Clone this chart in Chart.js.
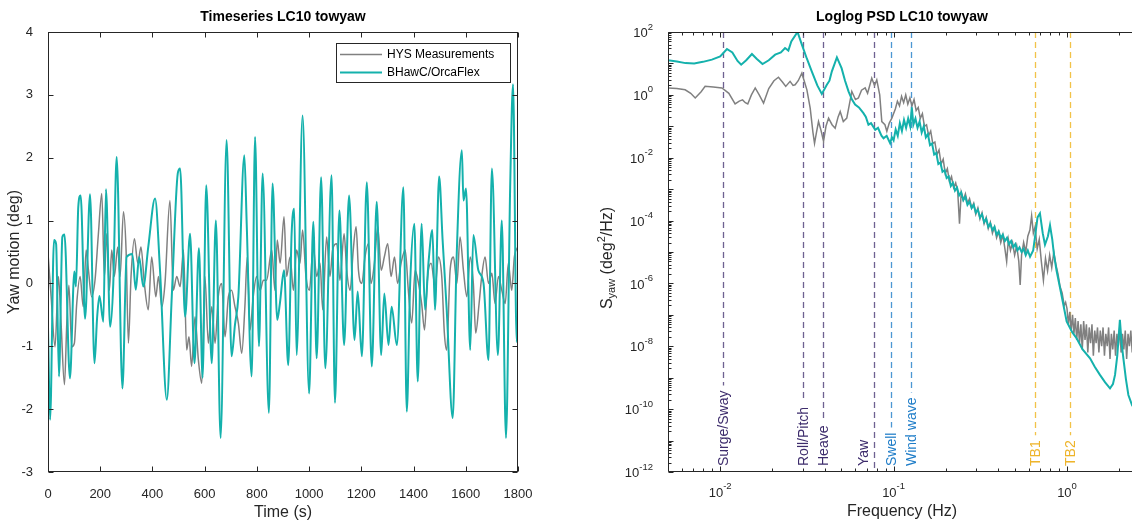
<!DOCTYPE html>
<html><head><meta charset="utf-8">
<script src="https://cdn.jsdelivr.net/npm/chart.js@4/dist/chart.umd.min.js"></script>
<style>
html,body{margin:0;padding:0;background:#fff;overflow:hidden;width:1132px;height:522px}
#w1{position:absolute;left:0;top:0;width:560px;height:522px}
#w2{position:absolute;left:560px;top:0;width:580px;height:522px}
</style></head><body>
<div id="w1"><canvas id="c1" width="560" height="522"></canvas></div>
<div id="w2"><canvas id="c2" width="580" height="522"></canvas></div>
<script>
// ---------- Timeseries data (time in s, yaw in deg) ----------
const seriesNames = ['HYS Measurements', 'BHawC/OrcaFlex'];
const hysTime = [1,12,27,40,50,63,72,80,91,101,110,123,135,146,155,167,180,193,206,216,225,235,244,254,267,276,289,299,308,318,331,344,356,369,384,397,413,423,436,448,467,480,493,506,519,531,540,550,563,576,589,601,614,627,640,652,665,678,691,703,716,729,742,754,763,774,786,799,812,825,837,857,869,878,889,904,914,927,940,952,965,975,988,1001,1016,1029,1042,1052,1067,1080,1090,1106,1118,1134,1144,1157,1169,1180,1189,1202,1214,1227,1237,1250,1263,1276,1288,1301,1314,1327,1339,1352,1368,1380,1393,1406,1419,1431,1442,1454,1467,1483,1495,1508,1518,1527,1540,1553,1566,1578,1591,1604,1617,1629,1638,1651,1661,1674,1687,1700,1712,1725,1738,1751,1763,1776,1786,1799];
const hysYaw = [0.42,-0.21,-1.01,0.11,-0.63,-1.61,-0.63,-0.03,-1.01,-0.95,-0.32,0.11,-0.37,0.53,0.21,-0.21,0.05,0.79,1.43,0.11,0.79,-0.11,0.53,0.11,0.58,0.11,1.14,0.53,-0.95,0.11,0.71,0.32,0.58,0.0,-0.42,0.42,-0.21,0.11,-0.37,0.0,1.32,-0.11,0.11,-0.05,0.53,-1.06,-0.85,-1.32,-0.53,-1.22,-1.59,0.11,-0.95,-0.37,-0.95,-0.21,0.0,-0.85,-0.21,-0.11,-0.37,-0.63,-1.11,-0.37,0.42,-0.74,-0.21,0.11,-0.11,0.05,0.05,0.53,-0.11,0.69,0.32,1.06,0.11,0.42,-0.11,0.53,0.32,0.85,0.11,-0.11,0.58,0.11,0.32,-0.42,0.74,0.11,0.53,0.63,0.05,0.79,0.21,-0.11,0.53,0.90,0.21,0.0,0.42,0.63,0.0,0.32,0.90,0.21,0.42,0.63,0.11,0.42,0.0,0.32,0.53,-0.11,-0.63,0.21,0.0,-0.32,-0.74,0.11,0.32,-0.05,0.42,0.11,-0.79,-1.06,0.21,0.42,0.0,0.74,0.21,-0.21,0.42,0.0,-0.79,-0.32,0.11,0.42,0.0,0.16,-0.32,0.11,-0.11,-0.32,0.32,-0.11,0.42,0.58];
const simTime = [0,8,23,31,42,55,63,84,101,107,116,125,142,161,178,188,197,212,222,238,250,263,285,301,323,336,349,365,384,410,429,455,474,497,506,525,544,561,578,592,606,627,643,661,684,703,716,729,752,761,780,793,808,822,846,860,878,888,904,920,933,943,952,975,1000,1016,1029,1046,1062,1086,1099,1116,1134,1153,1174,1186,1202,1221,1240,1259,1276,1288,1304,1316,1336,1361,1374,1387,1403,1416,1431,1444,1457,1472,1482,1498,1511,1527,1550,1565,1585,1591,1601,1617,1629,1648,1668,1687,1700,1723,1738,1754,1770,1781,1795,1800];
const simYaw = [-0.69,-2.17,0.69,0.63,-1.48,0.74,0.78,-1.51,0.19,-0.05,1.22,1.40,-0.56,1.42,-1.27,-0.55,-0.2,-0.61,1.50,-0.69,0.0,2.01,-1.67,0.42,0.47,-0.1,0.42,-0.05,0.58,1.35,0.21,-1.85,-0.21,1.75,1.83,-0.53,0.79,-1.27,0.56,-1.5,1.56,-1.27,1.0,-2.46,2.28,-1.16,-0.66,-0.21,2.04,0.95,-1.48,2.33,-1.0,1.75,-2.06,1.59,-0.58,-0.32,0.21,-1.30,0.79,1.19,-1.14,2.67,-1.75,0.98,-1.19,1.69,-1.35,1.72,-1.90,1.16,-0.98,1.40,-0.9,-0.13,-1.16,1.61,-1.32,1.30,-1.14,-0.16,-0.98,-0.37,-0.98,1.53,-2.04,0.0,0.95,-1.56,0.95,-0.42,0.32,0.85,-0.42,1.70,0.71,-0.42,-2.14,0.42,2.12,1.32,1.51,-1.06,0.77,0.21,0.0,-1.22,1.83,-1.14,1.0,-2.46,1.53,3.17,-0.93,-0.6];
const timeTicks = [0,200,400,600,800,1000,1200,1400,1600,1800];
const yawTicks = [-3,-2,-1,0,1,2,3,4];

// ---------- PSD data: pairs of [log10 frequency (Hz), log10 PSD (deg^2/Hz)] ----------
const hysPsd = [[-2.301,0.22],[-2.25,0.20],[-2.202,0.16],[-2.17,0.05],[-2.144,-0.10],[-2.11,0.10],[-2.087,0.27],[-2.04,0.25],[-1.99,0.22],[-1.95,0.05],[-1.914,-0.29],[-1.89,-0.20],[-1.871,-0.16],[-1.855,-0.25],[-1.841,-0.29],[-1.82,0.0],[-1.798,0.22],[-1.775,0.0],[-1.75,-0.26],[-1.72,0.20],[-1.69,0.45],[-1.664,0.56],[-1.64,0.40],[-1.622,0.27],[-1.597,0.43],[-1.58,0.30],[-1.568,0.32],[-1.55,0.45],[-1.529,0.69],[-1.5,0.16],[-1.481,-0.42],[-1.465,-1.2],[-1.456,-1.54],[-1.445,-1.2],[-1.433,-0.85],[-1.42,-1.1],[-1.404,-1.48],[-1.39,-1.0],[-1.375,-0.74],[-1.355,-0.95],[-1.337,-1.06],[-1.32,-0.7],[-1.308,-0.53],[-1.29,-0.85],[-1.27,-0.74],[-1.255,-0.3],[-1.241,0.11],[-1.22,-0.15],[-1.203,-0.10],[-1.185,0.15],[-1.164,0.22],[-1.15,0.05],[-1.126,0.53],[-1.11,0.30],[-1.097,0.48],[-1.08,0.0],[-1.068,-0.85],[-1.05,-0.95],[-1.039,-1.16],[-1.025,-0.9],[-1.01,-0.74],
[-0.990,-0.45],[-0.978,-0.20],[-0.966,-0.35],[-0.954,-0.05],[-0.942,-0.25],[-0.930,0.00],[-0.918,-0.30],[-0.906,-0.10],[-0.894,-0.35],[-0.882,-0.15],[-0.870,-0.50],[-0.858,-0.40],[-0.846,-0.75],[-0.834,-0.60],[-0.822,-1.00],[-0.810,-0.95],[-0.798,-1.30],[-0.786,-1.15],[-0.774,-1.55],[-0.762,-1.50],[-0.750,-1.90],[-0.738,-1.75],[-0.726,-2.20],[-0.714,-2.05],[-0.702,-2.50],[-0.690,-2.35],[-0.678,-2.75],[-0.666,-2.60],[-0.654,-2.95],[-0.642,-2.80],[-0.630,-3.10],[-0.620,-4.10],[-0.610,-3.10],[-0.598,-3.35],[-0.586,-3.15],[-0.574,-3.45],[-0.562,-3.30],[-0.550,-3.60],[-0.538,-3.45],[-0.526,-3.80],[-0.514,-3.60],[-0.502,-3.95],[-0.490,-3.75],[-0.478,-4.10],[-0.466,-3.90],[-0.454,-4.25],[-0.442,-4.05],[-0.430,-4.40],[-0.418,-4.20],[-0.406,-4.55],[-0.394,-4.35],[-0.382,-4.70],[-0.370,-4.45],[-0.358,-4.90],[-0.348,-5.30],[-0.338,-4.60],[-0.326,-4.95],[-0.314,-4.70],[-0.302,-5.10],[-0.290,-4.80],[-0.278,-5.30],[-0.270,-6.05],[-0.262,-5.10],[-0.250,-4.70],[-0.238,-5.00],[-0.226,-4.50],[-0.214,-4.30],[-0.204,-3.85],[-0.194,-4.40],[-0.184,-4.20],[-0.172,-4.90],[-0.160,-4.60],[-0.148,-5.30],[-0.136,-5.90],[-0.124,-5.20],[-0.112,-5.60],[-0.100,-5.10],[-0.088,-5.50],[-0.076,-5.00],[-0.064,-5.40],[-0.052,-5.70],[-0.040,-6.10],[-0.028,-6.30],[-0.016,-6.70],[-0.008,-6.60],
[0.000,-6.8],[0.008,-7.3],[0.016,-6.9],[0.024,-7.5],[0.032,-7.0],[0.040,-7.6],[0.048,-7.1],[0.056,-7.8],[0.064,-7.2],[0.072,-7.9],[0.080,-7.3],[0.088,-8.1],[0.096,-7.2],[0.104,-7.8],[0.112,-7.3],[0.120,-8.2],[0.128,-7.4],[0.136,-7.9],[0.144,-7.3],[0.152,-8.3],[0.160,-7.5],[0.168,-7.9],[0.176,-7.4],[0.184,-8.2],[0.192,-7.5],[0.200,-8.0],[0.208,-7.4],[0.216,-8.3],[0.224,-7.6],[0.232,-8.0],[0.240,-7.4],[0.248,-8.4],[0.256,-7.6],[0.264,-8.1],[0.272,-7.5],[0.280,-8.3],[0.288,-7.6],[0.296,-8.0],[0.304,-7.4],[0.312,-8.2],[0.320,-7.6],[0.328,-8.1],[0.336,-7.5],[0.344,-8.4],[0.352,-7.6],[0.360,-8.0],[0.368,-7.5],[0.376,-8.2],[0.384,-7.7],[0.392,-8.0],[0.400,-7.8]];
const simPsd = [[-2.301,1.10],[-2.25,1.06],[-2.2,1.01],[-2.15,1.00],[-2.1,1.05],[-2.048,1.12],[-2.0,1.22],[-1.961,1.46],[-1.93,1.35],[-1.9,1.08],[-1.879,0.96],[-1.85,1.10],[-1.817,1.30],[-1.79,1.15],[-1.756,0.98],[-1.72,1.10],[-1.683,1.28],[-1.65,1.35],[-1.626,1.49],[-1.607,1.41],[-1.59,1.70],[-1.554,2.0],[-1.529,1.60],[-1.5,1.15],[-1.472,0.75],[-1.44,0.30],[-1.414,0.03],[-1.385,0.32],[-1.37,0.45],[-1.356,0.75],[-1.327,1.19],[-1.3,0.85],[-1.28,0.45],[-1.26,0.11],[-1.24,-0.15],[-1.222,-0.31],[-1.2,-0.40],[-1.174,-0.58],[-1.16,-0.70],[-1.145,-0.95],[-1.13,-0.90],[-1.106,-1.11],[-1.09,-1.05],[-1.07,-1.30],[-1.058,-1.38],[-1.04,-1.30],[-1.02,-1.54],[-1.01,-1.35],
[-1.000,-1.45],[-0.988,-1.10],[-0.976,-1.30],[-0.964,-0.90],[-0.952,-1.15],[-0.940,-0.80],[-0.928,-1.05],[-0.916,-0.75],[-0.904,-1.00],[-0.895,-0.40],[-0.886,-0.95],[-0.874,-0.75],[-0.862,-1.05],[-0.850,-0.85],[-0.838,-1.20],[-0.826,-1.00],[-0.814,-1.35],[-0.802,-1.25],[-0.790,-1.60],[-0.778,-1.55],[-0.766,-1.90],[-0.754,-1.85],[-0.742,-2.20],[-0.730,-2.15],[-0.718,-2.45],[-0.706,-2.40],[-0.694,-2.65],[-0.682,-2.60],[-0.670,-2.90],[-0.658,-2.80],[-0.646,-3.05],[-0.634,-2.95],[-0.622,-3.20],[-0.610,-3.10],[-0.598,-3.35],[-0.586,-3.25],[-0.574,-3.50],[-0.562,-3.40],[-0.550,-3.60],[-0.538,-3.50],[-0.526,-3.75],[-0.514,-3.65],[-0.502,-3.90],[-0.490,-3.80],[-0.478,-4.05],[-0.466,-3.95],[-0.454,-4.20],[-0.442,-4.10],[-0.430,-4.30],[-0.418,-4.20],[-0.406,-4.45],[-0.394,-4.35],[-0.382,-4.55],[-0.370,-4.45],[-0.358,-4.65],[-0.346,-4.55],[-0.334,-4.75],[-0.322,-4.65],[-0.310,-4.85],[-0.298,-4.75],[-0.286,-4.95],[-0.274,-4.85],[-0.262,-5.00],[-0.250,-4.90],[-0.238,-5.10],[-0.226,-4.95],[-0.213,-5.15],
[-0.195,-4.95],[-0.184,-4.50],[-0.17,-3.90],[-0.156,-3.77],[-0.14,-4.40],[-0.127,-4.77],[-0.11,-4.50],[-0.098,-4.15],[-0.085,-4.60],[-0.075,-5.09],[-0.06,-5.60],[-0.04,-6.15],[-0.02,-6.70],[-0.002,-7.21],[0.03,-7.55],[0.056,-7.75],[0.09,-8.10],[0.133,-8.38],[0.16,-8.65],[0.19,-8.91],[0.22,-9.15],[0.248,-9.34],[0.265,-9.20],[0.277,-8.91],[0.29,-8.30],[0.305,-7.16],[0.315,-7.90],[0.325,-8.38],[0.34,-9.05],[0.354,-9.55],[0.375,-9.87],[0.4,-10.1]];
const psdDecades = [-12,-11,-10,-9,-8,-7,-6,-5,-4,-3,-2,-1,0,1,2];
const psdLabelDecades = [-12,-10,-8,-6,-4,-2,0,2];
const freqDecades = [-3,-2,-1,0];
const freqLabelDecades = [-2,-1,0];

// ---------- Natural-frequency markers ----------
const markerFreq = [0.0104,0.0302,0.0391,0.0775,0.0963,0.126,0.654,1.04];
const markerLabel = ['Surge/Sway','Roll/Pitch','Heave','Yaw','Swell','Wind wave','TB1','TB2'];
const markerGroup = [0,0,0,0,1,1,2,2];

// ---------- styling ----------
const FONT = '"Liberation Sans", Arial, Helvetica, sans-serif';
const AX = '#262626';
const GREY = '#808080';
const TEAL = '#14B1AC';
const groupText = ['#3d2c6c','#1f7dc8','#eeb42a'];
const groupLine = ['rgba(61,44,108,0.75)','rgba(31,125,200,0.8)','rgba(240,185,40,0.85)'];

const pts = (xs, ys) => xs.map((v,i)=>({x:v, y:ys[i]}));
const pts10 = pairs => pairs.map(p=>({x:Math.pow(10,p[0]), y:Math.pow(10,p[1])}));

function tickLines(ctx, list){ ctx.beginPath(); list.forEach(s=>{ctx.moveTo(s[0],s[1]);ctx.lineTo(s[2],s[3]);}); ctx.stroke(); }

// ---------- Left chart ----------
const leftDeco = {
  id:'leftDeco',
  afterDraw(chart){
    const {ctx, chartArea:a, scales:{x,y}} = chart;
    ctx.save();
    ctx.strokeStyle = AX; ctx.lineWidth = 1;
    const L = Math.round(a.left)+0.5, R = Math.round(a.right)-0.5, T = Math.round(a.top)+0.5, B = Math.round(a.bottom)-0.5;
    ctx.strokeRect(L, T, R-L, B-T);
    const segs = [];
    timeTicks.forEach(v=>{const p=Math.round(x.getPixelForValue(v))+0.5; segs.push([p,B,p,B-5],[p,T,p,T+5]);});
    yawTicks.forEach(v=>{const p=Math.round(y.getPixelForValue(v))+0.5; segs.push([L,p,L+5,p],[R,p,R-5,p]);});
    tickLines(ctx, segs);
    ctx.fillStyle = '#000'; ctx.font = 'bold 14px '+FONT; ctx.textAlign='center'; ctx.textBaseline='middle';
    ctx.fillText('Timeseries LC10 towyaw', (a.left+a.right)/2, 17);
    const bx=336, by=43, bw=174, bh=39;
    ctx.fillStyle='#fff'; ctx.fillRect(bx,by,bw,bh);
    ctx.strokeStyle = AX; ctx.lineWidth=1; ctx.strokeRect(bx+0.5,by+0.5,bw,bh);
    const cols=[GREY,TEAL], lw=[1.5,2];
    ctx.font = '12px '+FONT; ctx.textAlign='left'; ctx.textBaseline='middle';
    seriesNames.forEach((n,i)=>{
      const yy = by + 11.5 + i*18;
      ctx.strokeStyle=cols[i]; ctx.lineWidth=lw[i];
      ctx.beginPath(); ctx.moveTo(bx+4,yy); ctx.lineTo(bx+46,yy); ctx.stroke();
      ctx.fillStyle='#000'; ctx.fillText(n, bx+51, yy);
    });
    ctx.restore();
  }
};

new Chart(document.getElementById('c1'), {
  type:'line',
  data:{datasets:[
    {label:seriesNames[1], data:pts(simTime, simYaw), borderColor:TEAL, borderWidth:2, pointRadius:0, cubicInterpolationMode:'monotone'},
    {label:seriesNames[0], data:pts(hysTime, hysYaw), borderColor:GREY, borderWidth:1.5, pointRadius:0, cubicInterpolationMode:'monotone'}
  ]},
  options:{
    responsive:false, animation:false, devicePixelRatio:1,
    layout:{padding:{top:32,right:42,left:0,bottom:0}},
    plugins:{legend:{display:false}, tooltip:{enabled:false}},
    scales:{
      x:{type:'linear', min:0, max:1800,
        afterBuildTicks:s=>{s.ticks = timeTicks.map(v=>({value:v}));},
        afterFit:s=>{s.height=50;},
        grid:{display:false}, border:{display:false},
        ticks:{color:AX, font:{family:FONT,size:13}, padding:7, maxRotation:0, autoSkip:false, callback:v=>String(v)},
        title:{display:true, text:'Time (s)', color:AX, font:{family:FONT,size:16}, padding:{top:0,bottom:0}}},
      y:{type:'linear', min:-3, max:4,
        afterBuildTicks:s=>{s.ticks = yawTicks.map(v=>({value:v}));},
        afterFit:s=>{s.width=48;},
        grid:{display:false}, border:{display:false},
        ticks:{color:AX, font:{family:FONT,size:13}, padding:7, callback:v=>String(v)},
        title:{display:true, text:'Yaw motion (deg)', color:AX, font:{family:FONT,size:16}, padding:{top:5,bottom:0}}}
    }
  },
  plugins:[leftDeco]
});

// ---------- Right chart ----------
function supText(ctx, base, exp, x, y, align){
  ctx.font='13px '+FONT; const wb=ctx.measureText(base).width;
  ctx.font='9.5px '+FONT; const we=ctx.measureText(exp).width;
  const x0 = align==='right' ? x-wb-we : x-(wb+we)/2;
  ctx.textAlign='left'; ctx.textBaseline='middle';
  ctx.font='13px '+FONT; ctx.fillText(base, x0, y);
  ctx.font='9.5px '+FONT; ctx.fillText(exp, x0+wb, y-6.5);
}

const rightDeco = {
  id:'rightDeco',
  beforeDatasetsDraw(chart){
    const {ctx, chartArea:a, scales:{x}} = chart;
    ctx.save();
    markerFreq.forEach((f,i)=>{
      const g = markerGroup[i];
      const p = Math.round(x.getPixelForValue(f))+0.5;
      ctx.font='14px '+FONT;
      const w = ctx.measureText(markerLabel[i]).width;
      const textBottom = a.bottom - 6;
      const offset = markerLabel[i]==='Yaw' ? -11 : 0;
      const lineEnd = offset===0 ? textBottom - w - 5 : a.bottom;
      ctx.strokeStyle = groupLine[g]; ctx.lineWidth = 1.3; ctx.setLineDash([6,4]);
      ctx.beginPath(); ctx.moveTo(p, a.top); ctx.lineTo(p, lineEnd); ctx.stroke();
      ctx.setLineDash([]);
      ctx.save(); ctx.translate(p+offset, textBottom); ctx.rotate(-Math.PI/2);
      ctx.fillStyle = groupText[g]; ctx.textAlign='left'; ctx.textBaseline='middle';
      ctx.fillText(markerLabel[i], 0, 0.5); ctx.restore();
    });
    ctx.restore();
  },
  afterDraw(chart){
    const {ctx, chartArea:a, scales:{x,y}} = chart;
    ctx.save();
    ctx.strokeStyle = AX; ctx.lineWidth = 1;
    const L = Math.round(a.left)+0.5, T = Math.round(a.top)+0.5, B = Math.round(a.bottom)-0.5, R = a.right+2;
    ctx.beginPath(); ctx.moveTo(R,T); ctx.lineTo(L,T); ctx.lineTo(L,B); ctx.lineTo(R,B); ctx.stroke();
    const segs=[];
    freqDecades.forEach(d=>{
      for(let m=1;m<=9;m++){
        const f = m*Math.pow(10,d);
        if (f < x.min*0.999 || f > x.max*1.001) continue;
        const p = Math.round(x.getPixelForValue(f))+0.5, len = m===1?5:3;
        segs.push([p,B,p,B-len],[p,T,p,T+len]);
      }
    });
    psdDecades.forEach(d=>{
      for(let m=1;m<=9;m++){
        const v = m*Math.pow(10,d);
        if (v > y.max*1.001) continue;
        const p = Math.round(y.getPixelForValue(v))+0.5, len = m===1?5:3;
        segs.push([L,p,L+len,p]);
      }
    });
    tickLines(ctx, segs);
    ctx.fillStyle = AX;
    psdLabelDecades.forEach(d=>{ supText(ctx,'10',String(d), a.left-15, y.getPixelForValue(Math.pow(10,d))+1.5, 'right'); });
    freqLabelDecades.forEach(d=>{ supText(ctx,'10',String(d), x.getPixelForValue(Math.pow(10,d)), 493, 'center'); });
    ctx.fillStyle='#000'; ctx.font='bold 14px '+FONT; ctx.textAlign='center'; ctx.textBaseline='middle';
    ctx.fillText('Loglog PSD LC10 towyaw', (a.left+a.right)/2, 17);
    ctx.fillStyle=AX; ctx.font='16px '+FONT;
    ctx.fillText('Frequency (Hz)', (a.left+a.right)/2, 512);
    const parts = [['S',16,0],['yaw',11,4],[' (deg',16,0],['2',11,-6.5],['/Hz)',16,0]];
    let tw=0; parts.forEach(p=>{ctx.font=p[1]+'px '+FONT; p.push(ctx.measureText(p[0]).width); tw+=p[3];});
    ctx.save(); ctx.translate(48, (a.top+a.bottom)/2 + 6); ctx.rotate(-Math.PI/2);
    let cx=-tw/2; ctx.textAlign='left'; ctx.textBaseline='middle';
    parts.forEach(p=>{ctx.font=p[1]+'px '+FONT; ctx.fillText(p[0], cx, p[2]); cx+=p[3];});
    ctx.restore();
    ctx.restore();
  }
};

new Chart(document.getElementById('c2'), {
  type:'line',
  data:{datasets:[
    {label:seriesNames[1], data:pts10(simPsd), borderColor:TEAL, borderWidth:2, pointRadius:0, tension:0},
    {label:seriesNames[0], data:pts10(hysPsd), borderColor:GREY, borderWidth:1.5, pointRadius:0, tension:0}
  ]},
  options:{
    responsive:false, animation:false, devicePixelRatio:1,
    layout:{padding:{top:32,right:4,left:0,bottom:0}},
    plugins:{legend:{display:false}, tooltip:{enabled:false}},
    scales:{
      x:{type:'logarithmic', min:0.005, max:2.5, afterFit:s=>{s.height=50;},
        grid:{display:false}, border:{display:false}, ticks:{display:false}},
      y:{type:'logarithmic', min:1e-12, max:1e2, afterFit:s=>{s.width=108;},
        grid:{display:false}, border:{display:false}, ticks:{display:false}}
    }
  },
  plugins:[rightDeco]
});
</script>
</body></html>
